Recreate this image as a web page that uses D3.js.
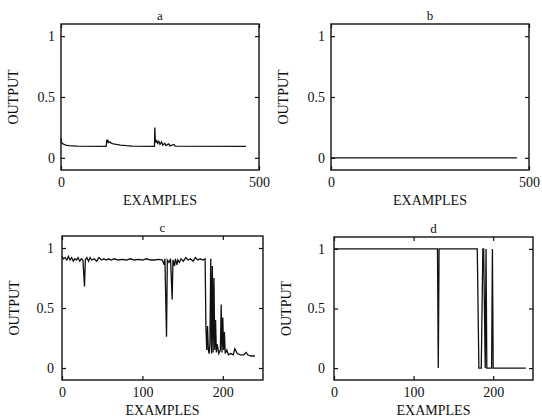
<!DOCTYPE html>
<html>
<head>
<meta charset="utf-8">
<script src="https://cdn.jsdelivr.net/npm/d3@7"></script>
<style>
  body { margin: 0; background: #fff; }
  text { font-family: "Liberation Serif", "DejaVu Serif", serif; fill: #111; }
</style>
</head>
<body>
<div id="chart"></div>
<script>
// values: [example, output]
let seriesA = [[0, 0.16], [1, 0.13], [3, 0.12], [5, 0.115], [8, 0.11], [12, 0.105], [20, 0.1], [40, 0.097],
  [114, 0.095], [116, 0.15], [117, 0.13], [119, 0.14], [121, 0.125], [124, 0.13], [127, 0.12], [132, 0.115],
  [140, 0.11], [150, 0.105], [165, 0.1], [180, 0.097], [236, 0.095], [237, 0.25], [238, 0.15], [240, 0.13],
  [242, 0.14], [244, 0.12], [247, 0.135], [250, 0.11], [254, 0.13], [257, 0.105], [262, 0.12], [265, 0.1],
  [272, 0.115], [275, 0.098], [285, 0.11], [288, 0.097], [467, 0.095]]
let seriesB = [[0, 0], [470, 0]]
let seriesC = [[0, 0.93], [2, 0.91], [4, 0.92], [6, 0.9], [8, 0.93], [10, 0.9], [12, 0.92], [14, 0.89],
  [16, 0.91], [18, 0.9], [20, 0.92], [22, 0.89], [24, 0.91], [26, 0.9], [28, 0.68], [29, 0.9], [31, 0.92],
  [33, 0.89], [35, 0.92], [37, 0.9], [40, 0.91], [43, 0.89], [46, 0.92], [49, 0.9], [52, 0.91], [55, 0.9],
  [58, 0.91], [61, 0.9], [65, 0.91], [70, 0.9], [75, 0.905], [80, 0.9], [85, 0.91], [90, 0.9], [95, 0.905],
  [100, 0.9], [105, 0.91], [110, 0.9], [115, 0.9], [120, 0.905], [125, 0.9], [127, 0.86], [128, 0.91],
  [130, 0.26], [131, 0.9], [133, 0.88], [135, 0.91], [137, 0.57], [138, 0.9], [140, 0.85], [141, 0.91],
  [143, 0.86], [144, 0.9], [146, 0.88], [148, 0.91], [151, 0.89], [154, 0.92], [157, 0.9], [160, 0.91],
  [163, 0.89], [166, 0.92], [169, 0.9], [172, 0.91], [175, 0.9], [178, 0.91], [179, 0.35], [180, 0.15],
  [181, 0.35], [182, 0.15], [183, 0.12], [184, 0.2], [185, 0.91], [186, 0.12], [187, 0.85], [188, 0.13],
  [189, 0.75], [190, 0.15], [191, 0.4], [192, 0.13], [193, 0.2], [195, 0.12], [197, 0.15], [198, 0.53],
  [199, 0.13], [200, 0.42], [201, 0.15], [202, 0.3], [203, 0.12], [205, 0.15], [207, 0.11], [210, 0.12],
  [213, 0.11], [215, 0.16], [218, 0.12], [222, 0.11], [226, 0.11], [229, 0.13], [231, 0.11], [235, 0.1],
  [240, 0.1]]
let seriesD = [[0, 1], [130, 1], [131, 0], [132, 1], [180, 1], [182, 0], [185, 0], [187, 1], [188, 1],
  [190, 0], [191, 1], [192, 0], [198, 0], [199, 1], [200, 0], [241, 0]]

let yTicks = [0, 0.5, 1]
let xTicksLong = [0, 500]
let xTicksShort = [0, 100, 200]
let titles = ['a', 'b', 'c', 'd']

// panel frames in page pixels
let panels = [
  { title: titles[0], data: seriesA, xMax: 500, xTicks: xTicksLong, left: 61, right: 259, top: 24, bottom: 170, labelGap: 6 },
  { title: titles[1], data: seriesB, xMax: 500, xTicks: xTicksLong, left: 331, right: 529, top: 24, bottom: 170, labelGap: 6 },
  { title: titles[2], data: seriesC, xMax: 250, xTicks: xTicksShort, left: 62, right: 263, top: 236, bottom: 380, labelGap: 8 },
  { title: titles[3], data: seriesD, xMax: 250, xTicks: xTicksShort, left: 334, right: 533, top: 237, bottom: 380, labelGap: 9 }
]

let svg = d3.select('#chart').append('svg')
  .attr('width', 542)
  .attr('height', 417)

panels.forEach(function (p) {
  let x = d3.scaleLinear().domain([0, p.xMax]).range([p.left, p.right])
  let y = d3.scaleLinear().domain([-0.1, 1.1]).range([p.bottom, p.top])
  let g = svg.append('g')

  // data line
  g.append('path')
    .datum(p.data)
    .attr('fill', 'none')
    .attr('stroke', '#111')
    .attr('stroke-width', 1.3)
    .attr('d', d3.line().x(function (d) { return x(d[0]) }).y(function (d) { return y(d[1]) }))

  // left axis with labels, inward ticks
  g.append('g')
    .attr('transform', `translate(${p.left},0)`)
    .call(d3.axisLeft(y).tickValues(yTicks).tickSize(-4).tickPadding(p.labelGap).tickFormat(d3.format('')))
  // right mirror ticks
  g.append('g')
    .attr('transform', `translate(${p.right},0)`)
    .call(d3.axisRight(y).tickValues(yTicks).tickSize(-4).tickFormat(''))
  // bottom axis with labels
  g.append('g')
    .attr('transform', `translate(0,${p.bottom})`)
    .call(d3.axisBottom(x).tickValues(p.xTicks).tickSize(-4).tickPadding(7).tickFormat(d3.format('')))
  // top mirror ticks
  g.append('g')
    .attr('transform', `translate(0,${p.top})`)
    .call(d3.axisTop(x).tickValues(p.xTicks).tickSize(-4).tickFormat(''))

  g.selectAll('.domain').remove()
  g.selectAll('.tick line').attr('stroke', '#111').attr('stroke-width', 1.2)
  g.selectAll('.tick text')
    .style('font-family', '"Liberation Serif", serif')
    .style('font-size', '14px')
    .attr('fill', '#111')

  // frame
  g.append('rect')
    .attr('x', p.left)
    .attr('y', p.top)
    .attr('width', p.right - p.left)
    .attr('height', p.bottom - p.top)
    .attr('fill', 'none')
    .attr('stroke', '#111')
    .attr('stroke-width', 1.4)

  // title
  g.append('text')
    .attr('x', (p.left + p.right) / 2)
    .attr('y', p.top - 4)
    .attr('text-anchor', 'middle')
    .style('font-size', '13px')
    .text(p.title)

  // axis titles
  g.append('text')
    .attr('x', (p.left + p.right) / 2)
    .attr('y', p.bottom + 35)
    .attr('text-anchor', 'middle')
    .style('font-size', '14px')
    .text('EXAMPLES')

  g.append('text')
    .attr('transform', `translate(${p.left - 43},${(p.top + p.bottom) / 2}) rotate(-90)`)
    .attr('text-anchor', 'middle')
    .style('font-size', '14px')
    .text('OUTPUT')
})
</script>
</body>
</html>
